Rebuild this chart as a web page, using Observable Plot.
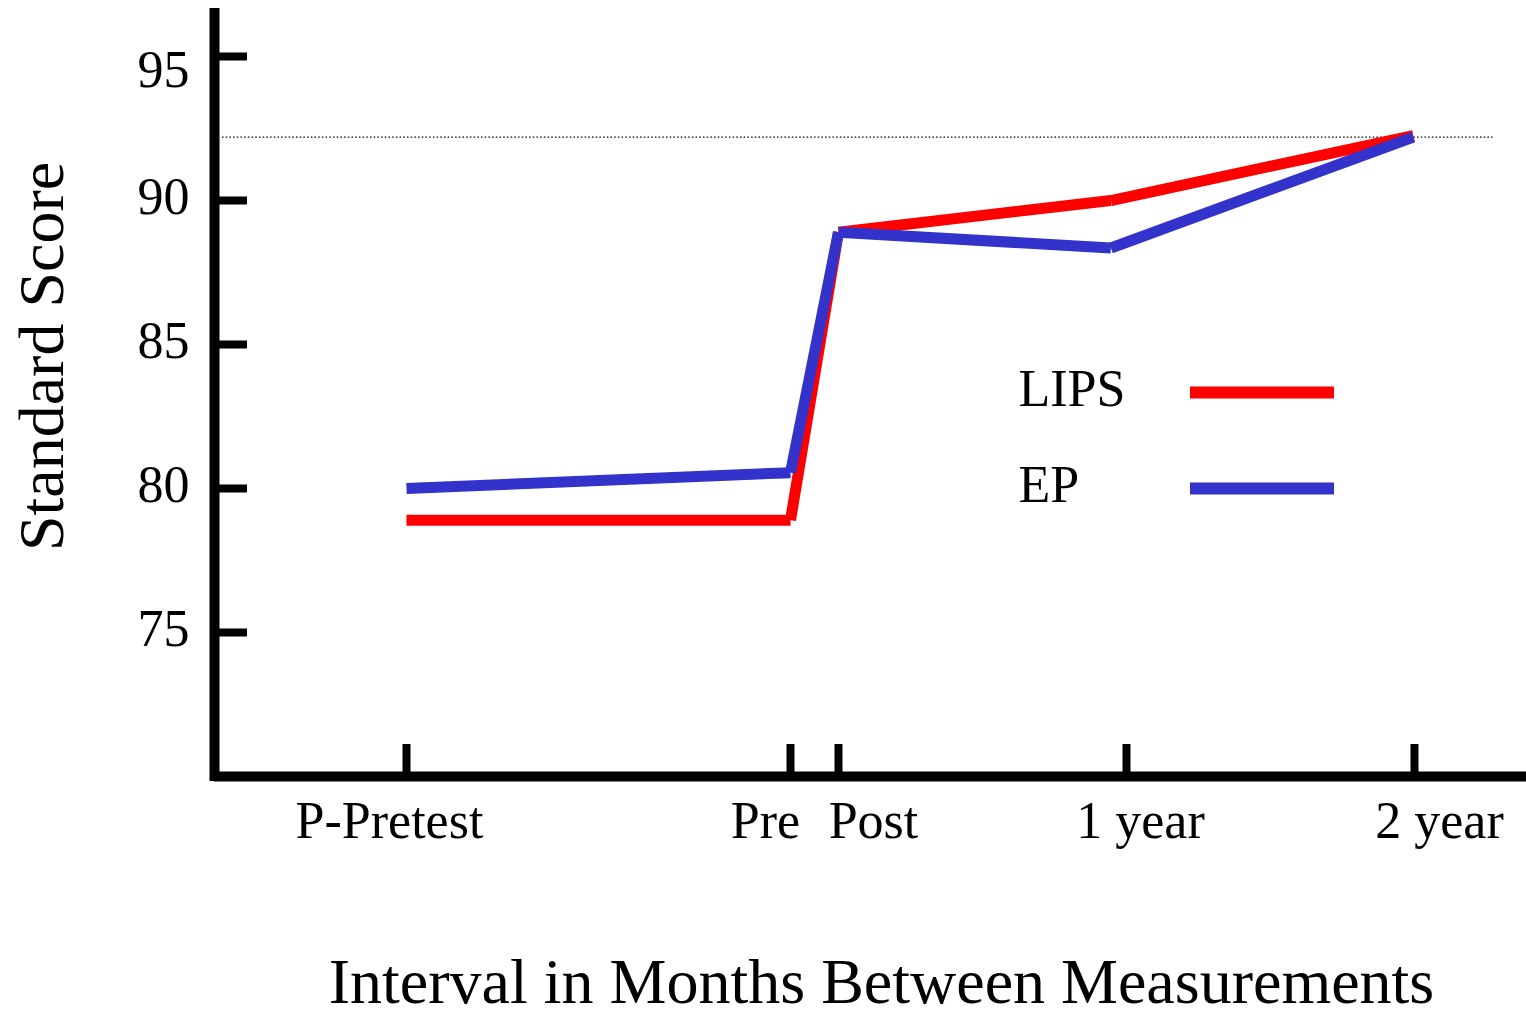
<!DOCTYPE html>
<html>
<head>
<meta charset="utf-8">
<script src="https://cdn.jsdelivr.net/npm/d3@7"></script>
<script src="https://cdn.jsdelivr.net/npm/@observablehq/plot@0.6"></script>
<style>
  html, body { margin: 0; padding: 0; background: #fff; overflow: hidden; }
  #chart svg { display: block; }
</style>
</head>
<body>
<div id="chart"></div>
<script>
// ---- Data ----
const categories   = ["P-Pretest", "Pre", "Post", "1 year", "2 year"];
const tickMonths   = [-18, -2, 0, 12, 24];          // tick positions (months, Post = 0)
const pointMonths  = [-18, -2, 0, 11.35, 23.95];    // measurement times
const lipsValues   = [78.9, 78.9, 88.9, 90.0, 92.25];
const epValues     = [80.0, 80.55, 88.9, 88.35, 92.2];
const yTickValues  = [75, 80, 85, 90, 95];
const referenceLevel = 92.2;
const seriesNames  = ["LIPS", "EP"];
const seriesColors = ["#ff0000", "#3333cc"];
const xTitle = "Interval in Months Between Measurements";
const yTitle = "Standard Score";

// ---- Layout ----
const xDomain = [-26, 28.667];
const yDomain = [70, 96.667];
const font = "'Liberation Serif', 'Times New Roman', Times, serif";

function segments(values) {
  const out = [];
  for (let i = 0; i < values.length - 1; i++) {
    out.push({x1: pointMonths[i], y1: values[i], x2: pointMonths[i + 1], y2: values[i + 1]});
  }
  return out;
}

const labelShift = [-17, -25, 35, 14, 25];   // horizontal offsets of tick labels (px)
const legendY = [83.33, 80.0];               // legend rows (in y units)

const marks = [
  // reference dotted line
  Plot.ruleY([referenceLevel], {x1: xDomain[0], x2: xDomain[1], insetLeft: 8, insetRight: 33,
    stroke: "#000", strokeWidth: 1.3, strokeDasharray: "1.5,2.2"}),
  // axis lines
  Plot.ruleX([xDomain[0]], {y1: yDomain[1], y2: yDomain[0], insetBottom: -5, stroke: "#000", strokeWidth: 10}),
  Plot.ruleY([yDomain[0]], {x1: xDomain[0], x2: xDomain[1], stroke: "#000", strokeWidth: 10}),
  // ticks
  Plot.ruleX(tickMonths, {x: d => d, y1: yDomain[0], y2: yDomain[0], insetTop: -32, stroke: "#000", strokeWidth: 8}),
  Plot.ruleY(yTickValues, {y: d => d, x1: xDomain[0], x2: xDomain[0], insetRight: -33, stroke: "#000", strokeWidth: 8}),
  // y tick labels
  Plot.text(yTickValues.filter(v => v !== 95), {x: xDomain[0], y: d => d, text: d => String(d),
    dx: -25, dy: 13, textAnchor: "end", lineAnchor: "bottom", fontSize: 52, fontFamily: font, fill: "#000"}),
  Plot.text(yTickValues.filter(v => v === 95), {x: xDomain[0], y: d => d, text: d => String(d),
    dx: -25, dy: 30, textAnchor: "end", lineAnchor: "bottom", fontSize: 52, fontFamily: font, fill: "#000"}),
  // x tick labels
  ...categories.map((label, i) => Plot.text([label], {x: tickMonths[i], y: yDomain[0], text: d => d,
    dx: labelShift[i], dy: 61, textAnchor: "middle", lineAnchor: "bottom", fontSize: 52, fontFamily: font, fill: "#000"})),
  // data lines
  Plot.link(segments(lipsValues), {x1: "x1", y1: "y1", x2: "x2", y2: "y2",
    stroke: seriesColors[0], strokeWidth: 11, strokeLinecap: "butt"}),
  Plot.link(segments(epValues), {x1: "x1", y1: "y1", x2: "x2", y2: "y2",
    stroke: seriesColors[1], strokeWidth: 11, strokeLinecap: "butt"}),
  // legend
  ...seriesNames.map((name, i) => Plot.ruleY([legendY[i]], {x1: 14.667, x2: 20.667,
    stroke: seriesColors[i], strokeWidth: 12, strokeLinecap: "butt"})),
  ...seriesNames.map((name, i) => Plot.text([name], {x: 7.5, y: legendY[i], text: d => d,
    dy: 13, textAnchor: "start", lineAnchor: "bottom", fontSize: 52, fontFamily: font, fill: "#000"})),
  // axis titles
  Plot.text([xTitle], {frameAnchor: "bottom", text: d => d, dx: 11, dy: 226,
    textAnchor: "middle", lineAnchor: "bottom", fontSize: 64, fontFamily: font, fill: "#000"}),
  Plot.text([yTitle], {frameAnchor: "left", text: d => d, dx: -152, dy: -36, rotate: -90,
    textAnchor: "middle", lineAnchor: "bottom", fontSize: 64, fontFamily: font, fill: "#000"})
];

const chart = Plot.plot({
  width: 1526,
  height: 1014,
  marginLeft: 214,
  marginRight: 0,
  marginTop: 8,
  marginBottom: 238,
  x: {domain: xDomain, axis: null},
  y: {domain: yDomain, axis: null},
  style: {fontFamily: font, background: "#fff", color: "#000", overflow: "visible"},
  marks
});
document.getElementById("chart").appendChild(chart);
</script>
</body>
</html>
